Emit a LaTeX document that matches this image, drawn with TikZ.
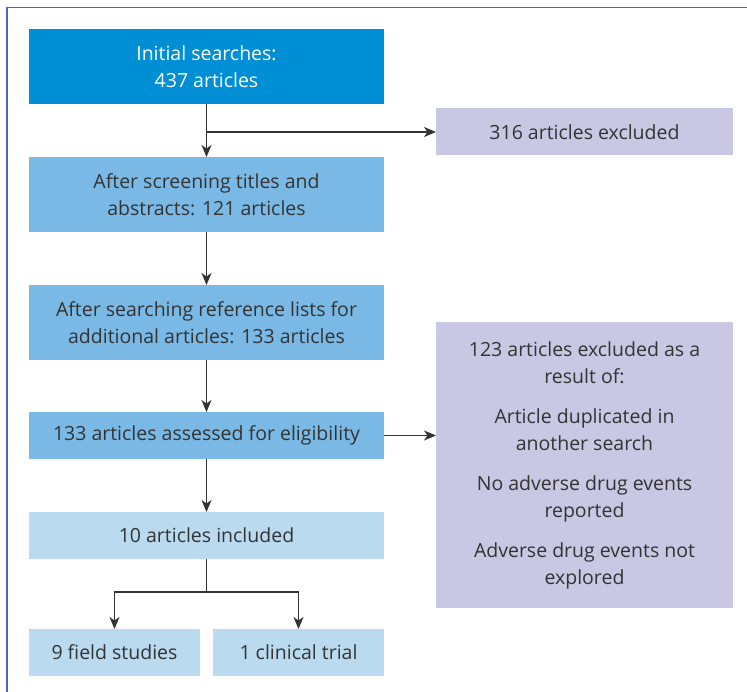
\documentclass[tikz,border=0pt]{standalone}
\usepackage{fontspec}
\setmainfont{Open Sans}
\usepackage{tikz}
\usetikzlibrary{arrows.meta,positioning}

\definecolor{framecol}{RGB}{70,105,190}
\definecolor{darkblue}{RGB}{0,143,213}
\definecolor{midblue}{RGB}{122,185,230}
\definecolor{lightblue}{RGB}{186,218,240}
\definecolor{lavender}{RGB}{200,200,228}
\definecolor{textgray}{RGB}{51,51,51}

\begin{document}
\begin{tikzpicture}[->,>={Stealth[length=12pt,width=10pt,inset=3.5pt]},x=1pt,y=1pt,node distance=53pt,
  line width=1.2pt,draw=textgray,
  box/.style={draw=none,align=center,inner sep=0pt,outer sep=0pt,text=textgray,
    font=\fontsize{19.5}{27}\selectfont},
  darkbox/.style={box,fill=darkblue,text=white,minimum width=355pt,minimum height=75pt},
  midbox/.style={box,fill=midblue,minimum width=355pt,minimum height=75pt},
  lightbox/.style={box,fill=lightblue,minimum width=355pt,minimum height=47pt},
  exclbox/.style={box,fill=lavender,minimum width=297pt,minimum height=47pt}]
  \useasboundingbox (0,0) rectangle (747,-692);
  \draw[-,framecol,line width=1.2pt] (7,-700) -- (7,-7.5) -- (760,-7.5);

  \node [darkbox] (0) at (206.5,-66.5) {Initial searches:\\437 articles};
  \node [midbox,below=of 0] (1) {After screening titles and\\abstracts: 121 articles};
  \node [midbox,below=of 1] (2) {After searching reference lists for\\additional articles: 133 articles};
  \node [midbox,minimum height=47pt,below=52pt of 2] (3) {133 articles assessed for eligibility};
  \node [lightbox,below=of 3] (4) {10 articles included};
  \node [lightbox,minimum width=171pt,below right=70pt and 0pt of 4.south west] (5) {9 field studies};
  \node [lightbox,minimum width=171pt,below left=70pt and 0pt of 4.south east] (6) {1 clinical trial};
  \node [exclbox] (7) at (584.5,-132) {316 articles excluded};
  \node [exclbox,minimum height=286pt] (8) at (584.5,-465)
    {123 articles excluded as a\\result of:\\[13pt]
     Article duplicated in\\another search\\[13pt]
     No adverse drug events\\reported\\[13pt]
     Adverse drug events not\\explored};

  \coordinate (split) at (0.south |- 7.west);
  \coordinate (side) at (3.east -| 8.west);
  \coordinate (fork) at ([yshift=-33pt]4.south);

  \draw (0) -- (1);
  \draw (split) -- (7);
  \draw (1) -- (2);
  \draw (2) -- (3);
  \draw (3) -- (4);
  \draw (3.east) -- (side);
  \draw[-] (4) -- (fork);
  \draw (fork) -| (5);
  \draw (fork) -| (6);

\end{tikzpicture}
\end{document}
